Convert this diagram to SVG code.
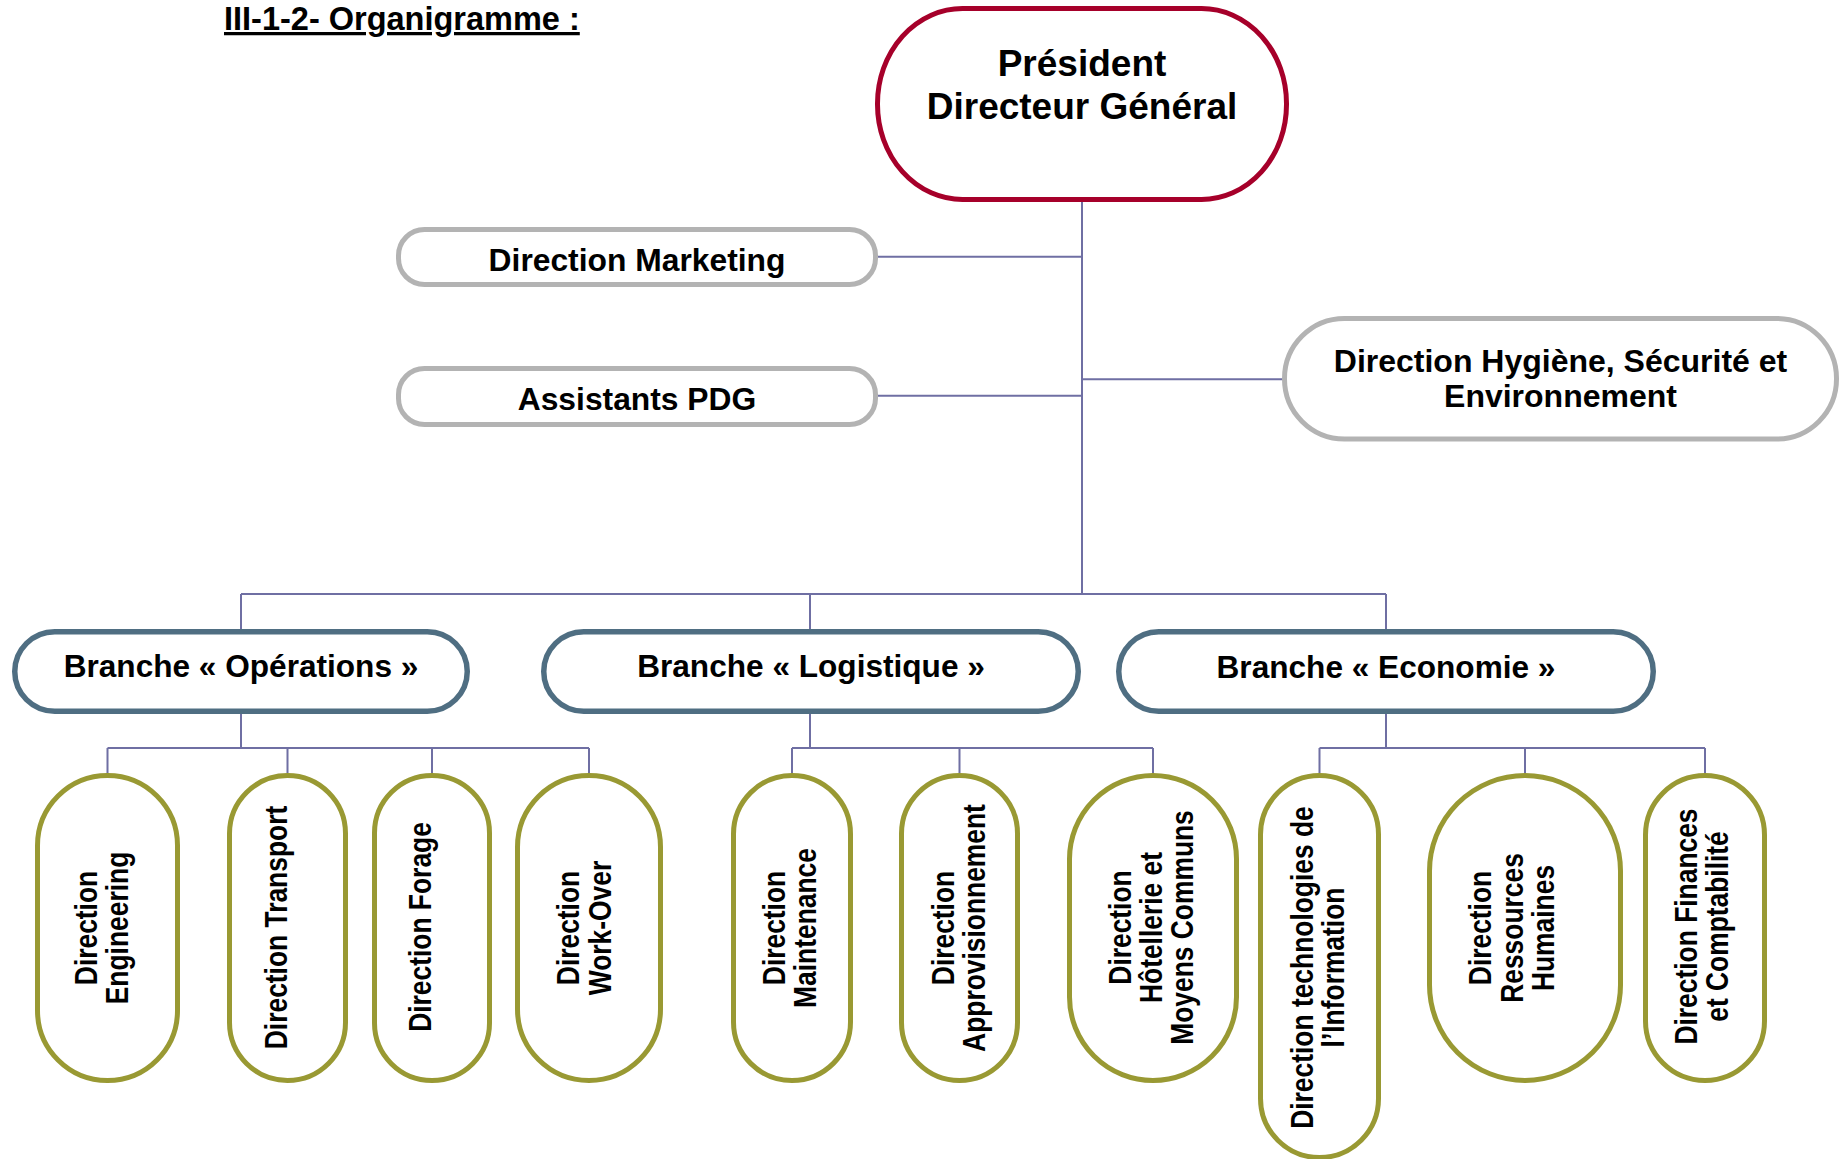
<svg xmlns="http://www.w3.org/2000/svg" width="1845" height="1159" viewBox="0 0 1845 1159">
  <style>
    text { font-family: "Liberation Sans", Arial, sans-serif; font-weight: bold; fill: #000; }
    .c { fill: none; stroke: #6F6FA3; stroke-width: 2; }
    .pdg { fill: #fff; stroke: #A6002A; stroke-width: 5; }
    .gray { fill: #fff; stroke: #B3B3B3; stroke-width: 5; }
    .br { fill: #fff; stroke: #4F6E82; stroke-width: 5.5; }
    .leaf { fill: #fff; stroke: #999933; stroke-width: 5; }
    .t37 { font-size: 37px; text-anchor: middle; }
    .t32 { font-size: 31.8px; text-anchor: middle; }
    .tb { font-size: 31.6px; text-anchor: middle; }
    .tl { font-size: 26.4px; text-anchor: middle; }
  </style>
  <rect width="1845" height="1159" fill="#fff"/>
  <text id="title" x="224" y="30" style="font-size:32.5px; text-decoration: underline;">III-1-2- Organigramme :</text>

  <g id="connectors" class="c">
    <path d="M1082 202V594"/>
    <path d="M878 256.7H1082"/>
    <path d="M878 395.7H1082"/>
    <path d="M1082 379.3H1284"/>
    <path d="M241 594H1386"/>
    <path d="M241 594V629M810 594V629M1386 594V629"/>
    <path d="M241 714V748M107.5 748H589M107.5 748V773M287.5 748V773M432 748V773M589 748V773"/>
    <path d="M810 714V748M792 748H1153M792 748V773M959.5 748V773M1153 748V773"/>
    <path d="M1386 714V748M1319.5 748H1705M1319.5 748V773M1525 748V773M1705 748V773"/>
  </g>

  <g id="pdg">
    <rect class="pdg" x="877.5" y="8.5" width="409" height="191" rx="85" ry="95"/>
    <text class="t37"><tspan x="1082" y="75.5">Président</tspan><tspan x="1082" y="119">Directeur Général</tspan></text>
  </g>
  <g id="marketing">
    <rect class="gray" x="398.5" y="229.5" width="477" height="55" rx="26"/>
    <text class="t32" x="637" y="270.7">Direction Marketing</text>
  </g>
  <g id="assistants">
    <rect class="gray" x="398.5" y="368.5" width="477" height="56" rx="26"/>
    <text class="t32" x="637" y="410">Assistants PDG</text>
  </g>
  <g id="hse">
    <rect class="gray" x="1284.5" y="318.5" width="552" height="120.5" rx="60"/>
    <text class="t32" style="font-size:32px"><tspan x="1560.5" y="371.7">Direction Hygiène, Sécurité et</tspan><tspan x="1560.5" y="407.3">Environnement</tspan></text>
  </g>

  <g id="branche-operations">
    <rect class="br" x="14.75" y="631.75" width="452.5" height="79.5" rx="40"/>
    <text class="tb" x="241" y="677">Branche « Opérations »</text>
  </g>
  <g id="branche-logistique">
    <rect class="br" x="543.75" y="631.75" width="534.5" height="79.5" rx="40"/>
    <text class="tb" x="811" y="677">Branche « Logistique »</text>
  </g>
  <g id="branche-economie">
    <rect class="br" x="1118.75" y="631.75" width="534.5" height="79.5" rx="40"/>
    <text class="tb" x="1386" y="678">Branche « Economie »</text>
  </g>

  <g id="dir-engineering">
    <rect class="leaf" x="37.5" y="775.5" width="140" height="305" rx="70"/>
    <text class="tl" transform="translate(97 928) rotate(-90) scale(1 1.16)"><tspan x="0" y="0">Direction</tspan><tspan x="0" y="26.5">Engineering</tspan></text>
  </g>
  <g id="dir-transport">
    <rect class="leaf" x="229.5" y="775.5" width="116" height="305" rx="58"/>
    <text class="tl" transform="translate(286.5 927.5) rotate(-90) scale(1 1.16)" x="0" y="0">Direction Transport</text>
  </g>
  <g id="dir-forage">
    <rect class="leaf" x="374.5" y="775.5" width="115" height="305" rx="57.5"/>
    <text class="tl" transform="translate(431 927) rotate(-90) scale(1 1.16)" x="0" y="0">Direction Forage</text>
  </g>
  <g id="dir-workover">
    <rect class="leaf" x="517.5" y="775.5" width="143" height="305" rx="71.5"/>
    <text class="tl" transform="translate(579 928) rotate(-90) scale(1 1.16)"><tspan x="0" y="0">Direction</tspan><tspan x="0" y="27.5">Work-Over</tspan></text>
  </g>
  <g id="dir-maintenance">
    <rect class="leaf" x="733.5" y="775.5" width="117" height="305" rx="58.5"/>
    <text class="tl" transform="translate(785 928) rotate(-90) scale(1 1.16)"><tspan x="0" y="0">Direction</tspan><tspan x="0" y="27">Maintenance</tspan></text>
  </g>
  <g id="dir-approvisionnement">
    <rect class="leaf" x="901.5" y="775.5" width="116" height="305" rx="58"/>
    <text class="tl" transform="translate(954 928) rotate(-90) scale(1 1.16)"><tspan x="0" y="0">Direction</tspan><tspan x="0" y="26.7">Approvisionnement</tspan></text>
  </g>
  <g id="dir-hotellerie">
    <rect class="leaf" x="1069.5" y="775.5" width="167" height="305" rx="83.5"/>
    <text class="tl" transform="translate(1131 927.5) rotate(-90) scale(1 1.16)"><tspan x="0" y="0">Direction</tspan><tspan x="0" y="26.7">Hôtellerie et</tspan><tspan x="0" y="53.4">Moyens Communs</tspan></text>
  </g>
  <g id="dir-ti">
    <rect class="leaf" x="1260.5" y="775.5" width="118" height="382" rx="59"/>
    <text class="tl" transform="translate(1313 967.5) rotate(-90) scale(1 1.16)"><tspan x="0" y="0">Direction technologies de</tspan><tspan x="0" y="26.7">l’Information</tspan></text>
  </g>
  <g id="dir-rh">
    <rect class="leaf" x="1429.5" y="775.5" width="191" height="305" rx="95.5"/>
    <text class="tl" transform="translate(1491 928) rotate(-90) scale(1 1.16)"><tspan x="0" y="0">Direction</tspan><tspan x="0" y="27.2">Ressources</tspan><tspan x="0" y="54.3">Humaines</tspan></text>
  </g>
  <g id="dir-finances">
    <rect class="leaf" x="1645.5" y="775.5" width="119" height="305" rx="59.5"/>
    <text class="tl" transform="translate(1697 926.5) rotate(-90) scale(1 1.16)"><tspan x="0" y="0">Direction Finances</tspan><tspan x="0" y="26.7">et Comptabilité</tspan></text>
  </g>
</svg>
